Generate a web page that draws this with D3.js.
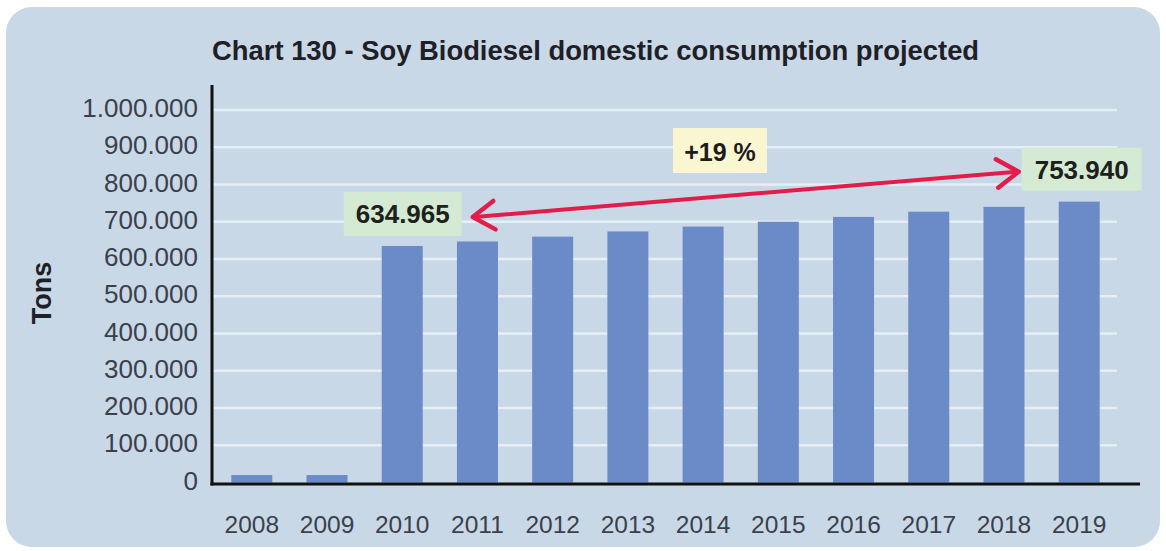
<!DOCTYPE html>
<html>
<head>
<meta charset="utf-8">
<script src="https://cdn.jsdelivr.net/npm/d3@7"></script>
<style>
  html, body { margin: 0; padding: 0; background: #ffffff; }
  svg { display: block; font-family: "Liberation Sans", Arial, sans-serif; }
</style>
</head>
<body>
<svg id="chart" width="1166" height="551"></svg>
<script>
// ---- Data ----
const years = ["2008","2009","2010","2011","2012","2013","2014","2015","2016","2017","2018","2019"];
const consumption = [20000, 20000, 634965, 647000, 660000, 674000, 687000, 700000, 713000, 727000, 740000, 753940];
const yTicks = [0, 100000, 200000, 300000, 400000, 500000, 600000, 700000, 800000, 900000, 1000000];
const titleText = "Chart 130 - Soy Biodiesel domestic consumption projected";
const yAxisTitle = "Tons";
const growthLabel = "+19 %";
const startIndex = 2;  // 2010
const endIndex = 11;   // 2019

// ---- Setup ----
const locale = d3.formatLocale({decimal: ",", thousands: ".", grouping: [3], currency: ["", ""]});
const fmt = locale.format(",d");

const svg = d3.select("#chart");

// card background
svg.append("rect")
  .attr("x", 6).attr("y", 7).attr("width", 1154).attr("height", 540)
  .attr("rx", 26).attr("ry", 26)
  .attr("fill", "#c9d8e6");

const x = d3.scaleBand().domain(years).range([211, 1120]).paddingInner(0.455).paddingOuter(0.27);
const y = d3.scaleLinear().domain([0, 1000000]).range([482.5, 110]);

// gridlines
svg.append("g").selectAll("line")
  .data(yTicks.filter(d => d > 0))
  .join("line")
  .attr("x1", 213).attr("x2", 1117)
  .attr("y1", d => y(d)).attr("y2", d => y(d))
  .attr("stroke", "#e6eef7").attr("stroke-width", 2.5);

// bars
svg.append("g").selectAll("rect")
  .data(years.map((yr, i) => ({yr, v: consumption[i]})))
  .join("rect")
  .attr("x", d => x(d.yr))
  .attr("width", x.bandwidth())
  .attr("y", d => y(d.v))
  .attr("height", d => y(0) - y(d.v))
  .attr("fill", "#6a8ac8");

// y axis
const yAxis = d3.axisLeft(y).tickValues(yTicks).tickFormat(d => fmt(d)).tickSize(0).tickPadding(14);
const gy = svg.append("g").attr("transform", "translate(212,0)").call(yAxis);
gy.select(".domain").remove();
gy.selectAll("text")
  .attr("font-size", 26).attr("fill", "#3a404c")
  .attr("dy", "0.25em");

// x axis
const xAxis = d3.axisBottom(x).tickSize(0).tickPadding(0);
const gx = svg.append("g").attr("transform", "translate(0,484)").call(xAxis);
gx.select(".domain").remove();
gx.selectAll("text")
  .attr("font-size", 24.5).attr("fill", "#3a404c")
  .attr("y", 49).attr("dy", 0);

// axis lines
svg.append("line").attr("x1", 212).attr("x2", 212).attr("y1", 85).attr("y2", 485.5)
  .attr("stroke", "#111").attr("stroke-width", 3);
svg.append("line").attr("x1", 210.5).attr("x2", 1140).attr("y1", 484).attr("y2", 484)
  .attr("stroke", "#111").attr("stroke-width", 3);

// title
svg.append("text")
  .attr("x", 212).attr("y", 60)
  .attr("font-size", 27.4).attr("font-weight", "bold").attr("fill", "#1e2026")
  .text(titleText);

// y axis title
svg.append("text")
  .attr("transform", "translate(51,293) rotate(-90)")
  .attr("text-anchor", "middle")
  .attr("font-size", 27).attr("font-weight", "bold").attr("fill", "#1e2026")
  .text(yAxisTitle);

// ---- Annotations ----
const ann = svg.append("g");
const startLab = fmt(consumption[startIndex]);
const endLab = fmt(consumption[endIndex]);

// start value box (left of 2010 bar)
const sx = x(years[startIndex]) - 38, sy = y(consumption[startIndex]) - 54;
ann.append("rect").attr("x", sx).attr("y", sy).attr("width", 118).attr("height", 44)
  .attr("fill", "#d5ead2");
ann.append("text").attr("x", sx + 59).attr("y", sy + 31)
  .attr("text-anchor", "middle").attr("font-size", 26).attr("font-weight", "bold").attr("fill", "#1c211c")
  .text(startLab);

// end value box (above 2019 bar)
const ex = x(years[endIndex]) - 37, ey = y(consumption[endIndex]) - 54;
ann.append("rect").attr("x", ex).attr("y", ey).attr("width", 120).attr("height", 43)
  .attr("fill", "#d5ead2");
ann.append("text").attr("x", ex + 60).attr("y", ey + 31)
  .attr("text-anchor", "middle").attr("font-size", 26).attr("font-weight", "bold").attr("fill", "#1c211c")
  .text(endLab);

// growth box
ann.append("rect").attr("x", 673).attr("y", 128).attr("width", 94).attr("height", 45)
  .attr("fill", "#faf6d2");
ann.append("text").attr("x", 720).attr("y", 161)
  .attr("text-anchor", "middle").attr("font-size", 25).attr("font-weight", "bold").attr("fill", "#1c1c1c")
  .text(growthLabel);

// double arrow
const ax1 = sx + 129, ay1 = sy + 25;
const ax2 = ex - 3, ay2 = ey + 24;
const red = "#e21d4b";
ann.append("line").attr("x1", ax1 + 2).attr("y1", ay1).attr("x2", ax2 - 2).attr("y2", ay2)
  .attr("stroke", red).attr("stroke-width", 4).attr("stroke-linecap", "round");
const ang = Math.atan2(ay2 - ay1, ax2 - ax1);
function head(px, py, dir) {
  const L = 26, spread = 0.58;
  const a = ang + (dir > 0 ? Math.PI : 0);
  const p1 = [px + L * Math.cos(a + spread), py + L * Math.sin(a + spread)];
  const p2 = [px + L * Math.cos(a - spread), py + L * Math.sin(a - spread)];
  ann.append("path")
    .attr("d", `M${p1[0]},${p1[1]} L${px},${py} L${p2[0]},${p2[1]}`)
    .attr("fill", "none").attr("stroke", red).attr("stroke-width", 4.5)
    .attr("stroke-linecap", "round").attr("stroke-linejoin", "round");
}
head(ax1, ay1, -1);
head(ax2, ay2, 1);
</script>
</body>
</html>
